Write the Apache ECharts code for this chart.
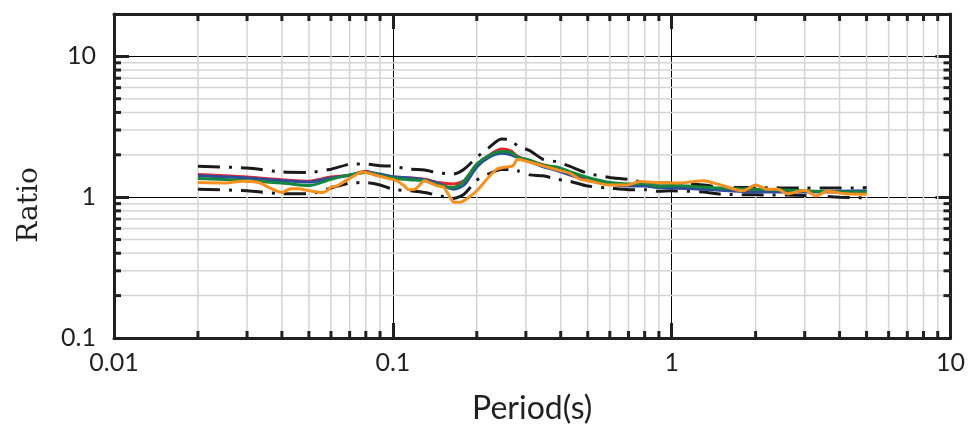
<!DOCTYPE html>
<html>
<head>
<meta charset="utf-8">
<script src="https://cdn.jsdelivr.net/npm/echarts@6/dist/echarts.min.js"></script>
<style>html,body{margin:0;padding:0;background:#fff}#c{width:968px;height:432px}</style>
</head>
<body>
<div id="c"></div>
<script>
const periods = [0.02,0.03,0.04,0.05,0.06,0.07,0.08,0.09,0.1,0.115,0.13,0.145,0.165,0.18,0.2,0.22,0.245,0.265,0.28,0.31,0.345,0.39,0.43,0.5,0.6,0.7,0.8,0.9,1.0,1.3,1.5,2,3,4,5];
const upper = [1.66,1.61,1.51,1.50,1.58,1.71,1.72,1.67,1.66,1.58,1.56,1.49,1.46,1.58,1.92,2.23,2.59,2.55,2.32,2.14,1.86,1.78,1.66,1.48,1.38,1.34,1.27,1.26,1.26,1.22,1.18,1.17,1.16,1.16,1.17];
const lower = [1.14,1.11,1.06,1.06,1.16,1.26,1.27,1.22,1.14,1.11,1.08,1.03,0.98,1.05,1.32,1.46,1.57,1.57,1.54,1.44,1.42,1.34,1.30,1.20,1.16,1.13,1.13,1.10,1.11,1.09,1.05,1.04,1.03,1.00,0.99];
const red = [1.45,1.39,1.33,1.30,1.39,1.43,1.53,1.42,1.39,1.37,1.34,1.27,1.24,1.31,1.67,1.97,2.20,2.13,1.95,1.81,1.70,1.60,1.48,1.34,1.24,1.22,1.22,1.19,1.17,1.15,1.14,1.11,1.10,1.09,1.08];
const blue = [1.42,1.37,1.31,1.28,1.37,1.43,1.51,1.46,1.40,1.37,1.33,1.26,1.14,1.22,1.64,1.91,2.05,2.00,1.91,1.79,1.65,1.54,1.44,1.32,1.24,1.20,1.20,1.17,1.16,1.14,1.12,1.09,1.09,1.10,1.11];
const green = [1.36,1.31,1.26,1.21,1.34,1.44,1.50,1.43,1.37,1.33,1.31,1.22,1.17,1.30,1.72,1.97,2.11,2.08,1.92,1.83,1.69,1.63,1.52,1.38,1.27,1.24,1.25,1.19,1.21,1.18,1.16,1.14,1.11,1.09,1.09];
const orangePeriods = [0.02,0.025,0.029,0.033,0.036,0.04,0.043,0.046,0.05,0.055,0.058,0.06,0.063,0.07,0.078,0.088,0.096,0.103,0.11,0.114,0.12,0.13,0.135,0.145,0.152,0.158,0.166,0.174,0.185,0.2,0.22,0.236,0.255,0.27,0.28,0.31,0.345,0.39,0.43,0.47,0.5,0.6,0.69,0.77,0.9,1.05,1.3,1.5,1.8,2.0,2.2,2.4,2.6,3.0,3.3,3.6,4.2,5.0];
const orange = [1.27,1.26,1.30,1.27,1.17,1.08,1.15,1.15,1.11,1.08,1.11,1.18,1.20,1.36,1.51,1.42,1.36,1.31,1.20,1.13,1.14,1.31,1.27,1.20,1.18,1.05,0.92,0.92,0.98,1.11,1.38,1.58,1.64,1.67,1.86,1.77,1.67,1.56,1.48,1.34,1.31,1.22,1.22,1.29,1.27,1.26,1.31,1.22,1.11,1.22,1.14,1.14,1.06,1.12,1.02,1.10,1.06,1.05];

const xTickLabels = ['0.01','0.1','1','10'];
const yTickLabels = ['0.1','1','10'];
const xMinor = [0.02,0.03,0.04,0.05,0.06,0.07,0.08,0.09,0.2,0.3,0.4,0.5,0.6,0.7,0.8,0.9,2,3,4,5,6,7,8,9];
const yMinor = [0.2,0.3,0.4,0.5,0.6,0.7,0.8,0.9,2,3,4,5,6,7,8,9];

const labelFont = 'Lato';
const pair = (xs, ys) => xs.map((x, i) => [x, ys[i]]);
const fmt = v => { const s = String(+v.toPrecision(6)); return xTickLabels.concat(yTickLabels).indexOf(s) >= 0 ? s : ''; };

const baseAxis = {
  type: 'log', logBase: 10,
  axisLine: {show: true, onZero: false, lineStyle: {color: '#231f20', width: 3}},
  axisTick: {show: true, inside: true, length: 15, lineStyle: {color: '#231f20', width: 3}},
  minorTick: {show: false},
  splitLine: {show: true, lineStyle: {color: '#000', width: 1}},
};

function minorRender(isX) {
  return function (params, api) {
    const cs = params.coordSys;
    const children = [];
    if (isX) {
      const x = api.coord([api.value(0), 1])[0];
      children.push({type: 'line', shape: {x1: x, y1: cs.y, x2: x, y2: cs.y + cs.height}, style: {stroke: '#d4d4d4', lineWidth: 1.5}});
      children.push({type: 'line', shape: {x1: x, y1: cs.y + cs.height, x2: x, y2: cs.y + cs.height - 7}, style: {stroke: '#231f20', lineWidth: 3}});
      children.push({type: 'line', shape: {x1: x, y1: cs.y, x2: x, y2: cs.y + 7}, style: {stroke: '#231f20', lineWidth: 3}});
    } else {
      const y = api.coord([1, api.value(1)])[1];
      children.push({type: 'line', shape: {x1: cs.x, y1: y, x2: cs.x + cs.width, y2: y}, style: {stroke: '#d4d4d4', lineWidth: 1.5}});
      children.push({type: 'line', shape: {x1: cs.x, y1: y, x2: cs.x + 7, y2: y}, style: {stroke: '#231f20', lineWidth: 3}});
      children.push({type: 'line', shape: {x1: cs.x + cs.width, y1: y, x2: cs.x + cs.width - 7, y2: y}, style: {stroke: '#231f20', lineWidth: 3}});
    }
    return {type: 'group', children: children};
  };
}

const dashDot = [22, 9, 3, 9];
function lineSeries(data, color, type, z) {
  return {type: 'line', data: data, showSymbol: false, symbol: 'none', smooth: 0.25, z: z,
    lineStyle: {color: color, width: 3, type: type}, silent: true, animation: false};
}

const chart = echarts.init(document.getElementById('c'), null, {renderer: 'canvas'});
chart.setOption({
  animation: false,
  backgroundColor: '#ffffff',
  grid: {left: 114, right: 17, top: 14, bottom: 94, containLabel: false},
  xAxis: [
    Object.assign({}, baseAxis, {position: 'bottom', min: 0.01, max: 10,
      name: 'Period(s)', nameLocation: 'middle', nameGap: 55,
      nameTextStyle: {fontFamily: labelFont, fontSize: 32, color: '#231f20'},
      axisLabel: {show: true, margin: 12, fontFamily: labelFont, fontSize: 25, color: '#231f20', formatter: fmt}}),
    Object.assign({}, baseAxis, {position: 'top', min: 0.01, max: 10, axisLabel: {show: false}, splitLine: {show: false}})
  ],
  yAxis: [
    Object.assign({}, baseAxis, {position: 'left', min: 0.1, max: 20,
      name: 'Ratio', nameLocation: 'middle', nameGap: 70, nameRotate: 90,
      nameTextStyle: {fontFamily: 'DejaVu Serif', fontSize: 28, color: '#231f20', padding: [0, 58, 0, 0]},
      axisLabel: {show: true, margin: 18, fontFamily: labelFont, fontSize: 25, color: '#231f20', formatter: fmt, showMaxLabel: false}}),
    Object.assign({}, baseAxis, {position: 'right', min: 0.1, max: 20, axisLabel: {show: false}, splitLine: {show: false}})
  ],
  series: [
    {type: 'custom', renderItem: minorRender(true), data: xMinor.map(v => [v, 1]), z: 1, silent: true, animation: false, clip: false},
    {type: 'custom', renderItem: minorRender(false), data: yMinor.map(v => [1, v]), z: 1, silent: true, animation: false, clip: false},
    lineSeries(pair(periods, upper), '#1a1a1a', dashDot, 3),
    lineSeries(pair(periods, lower), '#1a1a1a', dashDot, 3),
    lineSeries(pair(periods, red), '#e8232a', 'solid', 4),
    lineSeries(pair(periods, blue), '#2d4c9c', 'solid', 5),
    lineSeries(pair(periods, green), '#12873d', 'solid', 6),
    lineSeries(pair(orangePeriods, orange), '#f7901e', 'solid', 7)
  ]
});
</script>
</body>
</html>
